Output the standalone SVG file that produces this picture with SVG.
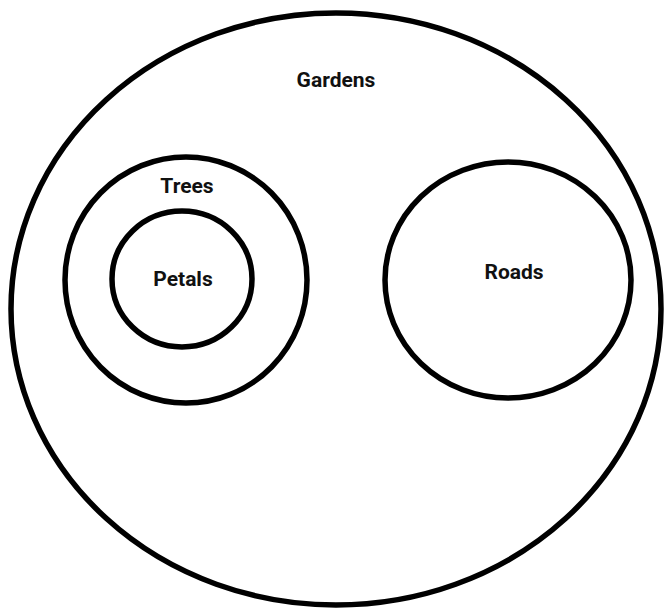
<svg xmlns="http://www.w3.org/2000/svg" width="670" height="612" viewBox="0 0 670 612">
<style>
.c{fill:none;stroke:#000;stroke-width:5.5}
.t{font-family:Roboto,"Liberation Sans",sans-serif;font-weight:bold;font-size:21px;fill:#111;text-anchor:middle}
</style>
<rect width="670" height="612" fill="#fff"/>
<g id="gardens"><ellipse class="c" cx="336" cy="309" rx="325" ry="296"/><text class="t" x="336" y="87">Gardens</text></g>
<g id="trees"><ellipse class="c" cx="186" cy="280" rx="121" ry="123"/><text class="t" x="187" y="193">Trees</text></g>
<g id="petals"><ellipse class="c" cx="182" cy="279" rx="70" ry="68"/><text class="t" x="183" y="286">Petals</text></g>
<g id="roads"><ellipse class="c" cx="508" cy="280" rx="123" ry="118"/><text class="t" x="514" y="279">Roads</text></g>
<g id="connectors"/>
</svg>
